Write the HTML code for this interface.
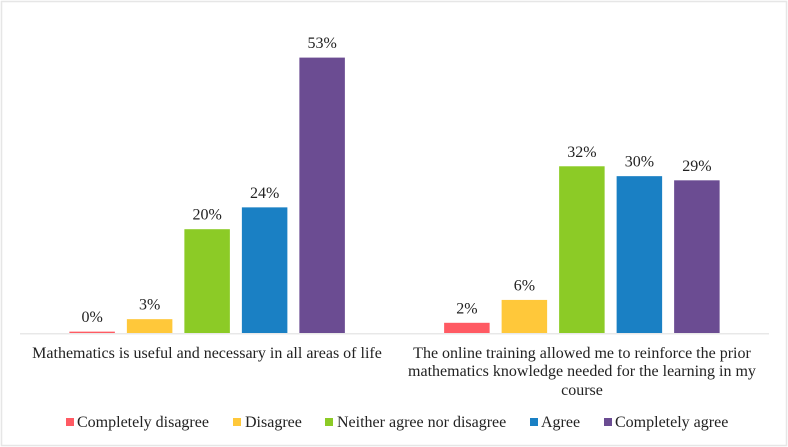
<!DOCTYPE html>
<html>
<head>
<meta charset="utf-8">
<style>
html,body{margin:0;padding:0;background:#fff;width:788px;height:447px;overflow:hidden}
svg{display:block}
text{font-family:"Liberation Serif",serif;fill:#222;font-size:16px}
</style>
</head>
<body>
<svg id="chart" width="788" height="447" viewBox="0 0 788 447" xmlns="http://www.w3.org/2000/svg">
<rect x="1.5" y="1.5" width="785" height="444" fill="#fff" stroke="#e6e6e6" stroke-width="1.5"/>
<g id="bars"></g>
<g id="labels"></g>
<line x1="20" y1="333.7" x2="769" y2="333.7" stroke="#e8e8e8" stroke-width="1.5"/>
<g>
<text x="207" y="358" text-anchor="middle">Mathematics is useful and necessary in all areas of life</text>
<text x="582" y="358" text-anchor="middle">The online training allowed me to reinforce the prior</text>
<text x="582" y="376" text-anchor="middle">mathematics knowledge needed for the learning in my</text>
<text x="582" y="395" text-anchor="middle">course</text>
</g>
<g id="legend">
<rect x="66" y="418" width="8" height="8" fill="#ff5a63"/>
<text x="77" y="427">Completely disagree</text>
<rect x="233" y="418" width="8" height="8" fill="#ffc83a"/>
<text x="245" y="427">Disagree</text>
<rect x="325" y="418" width="8" height="8" fill="#8ccb26"/>
<text x="337" y="427">Neither agree nor disagree</text>
<rect x="530" y="418" width="8" height="8" fill="#1a80c4"/>
<text x="541" y="427">Agree</text>
<rect x="604" y="418" width="8" height="8" fill="#6b4c92"/>
<text x="615" y="427">Completely agree</text>
</g>
</svg>
<script>
var categories = ["Mathematics is useful", "Online training"];
var seriesNames = ["Completely disagree", "Disagree", "Neither agree nor disagree", "Agree", "Completely agree"];
var seriesColors = ["#ff5a63", "#ffc83a", "#8ccb26", "#1a80c4", "#6b4c92"];
var completelyDisagree = [0.3, 2];
var disagree = [2.7, 6.4];
var neither = [20, 32.1];
var agree = [24.2, 30.2];
var completelyAgree = [53, 29.4];
var completelyDisagreeLabels = ["0%", "2%"];
var disagreeLabels = ["3%", "6%"];
var neitherLabels = ["20%", "32%"];
var agreeLabels = ["24%", "30%"];
var completelyAgreeLabels = ["53%", "29%"];

var seriesValues = [completelyDisagree, disagree, neither, agree, completelyAgree];
var seriesLabels = [completelyDisagreeLabels, disagreeLabels, neitherLabels, agreeLabels, completelyAgreeLabels];

var NS = "http://www.w3.org/2000/svg";
var barsG = document.getElementById("bars");
var labelsG = document.getElementById("labels");
var plotLeft = 19.75, categoryWidth = 374.75, baseline = 333.2, pxPerUnit = 5.2;
var barWidth = 45.5, barGap = 12;

function xScale(catIndex, seriesIndex) {
  var n = seriesNames.length;
  var total = n * barWidth + (n - 1) * barGap;
  var center = plotLeft + categoryWidth * (catIndex + 0.5);
  return center - total / 2 + seriesIndex * (barWidth + barGap);
}
function yScale(v) {
  return baseline - v * pxPerUnit;
}

seriesNames.forEach(function (name, s) {
  categories.forEach(function (cat, c) {
    var v = seriesValues[s][c];
    var x = xScale(c, s);
    var y = yScale(v);
    var r = document.createElementNS(NS, "rect");
    r.setAttribute("x", x);
    r.setAttribute("y", y);
    r.setAttribute("width", barWidth);
    r.setAttribute("height", baseline - y);
    r.setAttribute("fill", seriesColors[s]);
    
    
    barsG.appendChild(r);

    var t = document.createElementNS(NS, "text");
    t.setAttribute("x", x + barWidth / 2);
    t.setAttribute("y", y - 9.5);
    t.setAttribute("text-anchor", "middle");
    t.textContent = seriesLabels[s][c];
    
    
    labelsG.appendChild(t);
  });
});
</script>
</body>
</html>
